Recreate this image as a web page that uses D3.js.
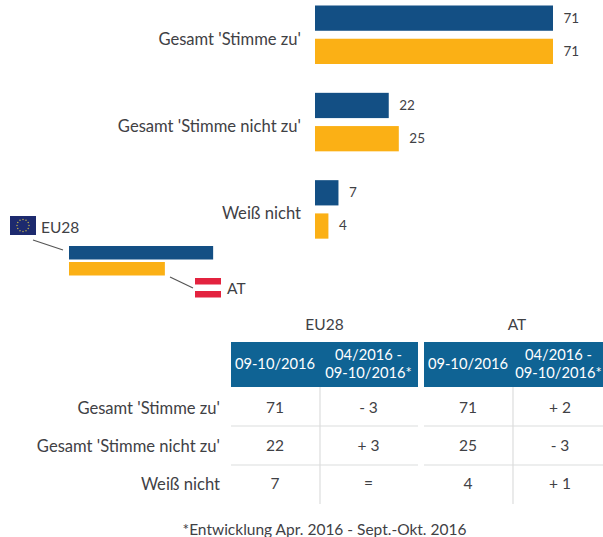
<html>
<script src='https://d3js.org/d3.v7.min.js'></script>
<style>
    html, body { margin: 0; padding: 0; background: #fff; overflow: hidden; }
    text { font-family: "Lato", sans-serif; fill: #3f4145; }
</style>
    <body>
        <svg width=603 height=537 id="chart1"></svg>
        <script>
            const categories = ["Gesamt 'Stimme zu'", "Gesamt 'Stimme nicht zu'", "Weiß nicht"];
            const seriesNames = ["EU28", "AT"];
            const eu28Values = [71, 22, 7];
            const atValues = [71, 25, 4];
            const legendKeyValues = [43, 28.6];
            const tableGroups = ["EU28", "AT"];
            const tableHeaders = [["09-10/2016"], ["04/2016 -", "09-10/2016*"]];
            const eu28Change = ["- 3", "+ 3", "="];
            const atChange = ["+ 2", "- 3", "+ 1"];
            const footnote = "*Entwicklung Apr. 2016 - Sept.-Okt. 2016";

            const blue = "#134f84", yellow = "#fbb015", headBlue = "#0f6394", rule = "#dcdddd";
            const colors = [blue, yellow];
            const series = [eu28Values, atValues];
            const fontSize = "15.5px", labelSize = "16.6px", headSize = "14.7px";

            const svg = d3.select("svg");

            //***** BARS *****
            const xScale = d3.scaleLinear().domain([0, 71]).range([315, 553]);
            const yGroup = d3.scaleBand().domain(categories).range([5.5, 267.5]);
            const ySeries = d3.scaleBand().domain(seriesNames).range([0, 58.5]).paddingInner(0.24);

            categories.forEach(function (cat, i) {
                const g = svg.append("g").attr("transform", "translate(0," + yGroup(cat) + ")");
                g.append("text")
                    .attr("x", 301)
                    .attr("y", 35)
                    .attr("text-anchor", "end")
                    .attr("dominant-baseline", "middle")
                    .style("font-size", labelSize)
                    .text(cat);
                seriesNames.forEach(function (s, j) {
                    const v = series[j][i];
                    g.append("rect")
                        .attr("x", xScale(0))
                        .attr("y", ySeries(s))
                        .attr("width", xScale(v) - xScale(0))
                        .attr("height", ySeries.bandwidth())
                        .attr("fill", colors[j]);
                    g.append("text")
                        .attr("x", xScale(v) + 10.5)
                        .attr("y", ySeries(s) + ySeries.bandwidth() / 2 + 1)
                        .attr("dominant-baseline", "middle")
                        .style("font-size", "13.5px")
                        .text(v);
                });
            });

            //***** LEGEND *****
            const legendX = d3.scaleLinear().domain([0, 71]).range([69, 307]);
            const legend = svg.append("g");
            legendKeyValues.forEach(function (v, j) {
                legend.append("rect")
                    .attr("x", legendX(0))
                    .attr("y", 246 + j * 16)
                    .attr("width", legendX(v) - legendX(0))
                    .attr("height", 13.5)
                    .attr("fill", colors[j]);
            });
            legend.append("line").attr("x1", 33).attr("y1", 240).attr("x2", 63).attr("y2", 250).attr("stroke", "#555").attr("stroke-width", 1.2);
            legend.append("line").attr("x1", 170).attr("y1", 277).attr("x2", 193).attr("y2", 288).attr("stroke", "#555").attr("stroke-width", 1.2);

            legend.append("rect").attr("x", 10).attr("y", 216).attr("width", 26).attr("height", 19).attr("fill", "#1d2a6e");
            d3.range(12).forEach(function (k) {
                const a = k / 12 * 2 * Math.PI;
                legend.append("circle")
                    .attr("cx", 23 + 6 * Math.cos(a))
                    .attr("cy", 225.5 + 6 * Math.sin(a))
                    .attr("r", 0.7)
                    .attr("fill", "#c9b84a");
            });
            legend.append("text").attr("x", 41).attr("y", 232.5).style("font-size", fontSize).text(seriesNames[0]);

            legend.append("rect").attr("x", 195).attr("y", 278).attr("width", 26).attr("height", 6.5).attr("fill", "#e3233f");
            legend.append("rect").attr("x", 195).attr("y", 291).attr("width", 26).attr("height", 6.5).attr("fill", "#e3233f");
            legend.append("text").attr("x", 227).attr("y", 294).style("font-size", fontSize).text(seriesNames[1]);

            //***** TABLE *****
            const table = svg.append("g");
            const panels = [
                { name: tableGroups[0], x0: 231, x1: 418, split: 320, cols: [275, 368.5], headX: 368.5, vals: eu28Values, chg: eu28Change },
                { name: tableGroups[1], x0: 424, x1: 604, split: 513, cols: [468, 560], headX: 558.5, vals: atValues, chg: atChange }
            ];
            const rowY = d3.scalePoint().domain(categories).range([409.5, 485.5]);

            [426, 465].forEach(function (y) {
                panels.forEach(function (p) {
                    table.append("line").attr("x1", p.x0).attr("x2", p.x1).attr("y1", y).attr("y2", y)
                        .attr("stroke", rule).attr("stroke-width", 1.2);
                });
            });

            panels.forEach(function (p) {
                table.append("text")
                    .attr("x", (p.x0 + p.x1) / 2 + (p.name == "AT" ? 3 : 0))
                    .attr("y", 330)
                    .attr("text-anchor", "middle")
                    .style("font-size", fontSize)
                    .text(p.name);
                table.append("rect")
                    .attr("x", p.x0).attr("y", 342)
                    .attr("width", p.x1 - p.x0).attr("height", 45)
                    .attr("fill", headBlue);
                table.append("line").attr("x1", p.split).attr("x2", p.split).attr("y1", 387).attr("y2", 504)
                    .attr("stroke", rule).attr("stroke-width", 1.2);

                table.append("text").attr("x", p.cols[0]).attr("y", 365.5)
                    .attr("text-anchor", "middle").attr("dominant-baseline", "middle")
                    .style("font-size", headSize).style("fill", "#fff")
                    .text(tableHeaders[0][0]);
                tableHeaders[1].forEach(function (line, k) {
                    table.append("text").attr("x", p.headX).attr("y", 356 + k * 18)
                        .attr("text-anchor", "middle").attr("dominant-baseline", "middle")
                        .style("font-size", headSize).style("fill", "#fff")
                        .text(line);
                });

                categories.forEach(function (cat, i) {
                    table.append("text").attr("x", p.cols[0]).attr("y", rowY(cat))
                        .attr("text-anchor", "middle").attr("dominant-baseline", "middle")
                        .style("font-size", fontSize).text(p.vals[i]);
                    table.append("text").attr("x", p.cols[1]).attr("y", rowY(cat))
                        .attr("text-anchor", "middle").attr("dominant-baseline", "middle")
                        .style("font-size", fontSize).text(p.chg[i]);
                });
            });

            categories.forEach(function (cat) {
                table.append("text").attr("x", 220).attr("y", rowY(cat))
                    .attr("text-anchor", "end").attr("dominant-baseline", "middle")
                    .style("font-size", labelSize).text(cat);
            });

            svg.append("text")
                .attr("x", 324.5).attr("y", 534.5)
                .attr("text-anchor", "middle")
                .style("font-size", fontSize)
                .text(footnote);
        </script>
    </body>
</html>
